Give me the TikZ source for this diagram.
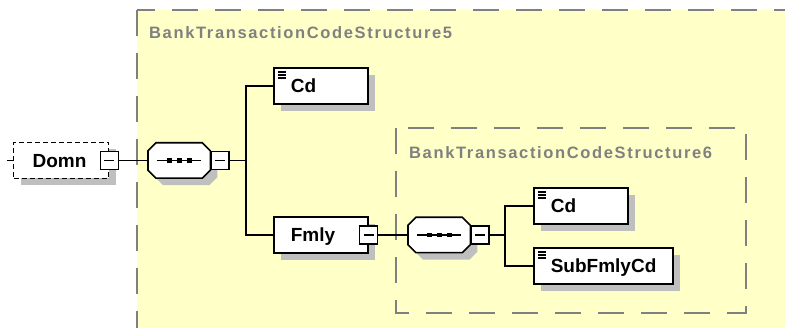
\documentclass[tikz,border=0pt]{standalone}
\usepackage{fontspec}
\setmainfont{Liberation Sans}
\newfontfamily\grpfont[LetterSpace=10]{Liberation Sans}
\usetikzlibrary{shadows}
\definecolor{grpfill}{RGB}{255,255,200}
\definecolor{grpline}{RGB}{128,128,128}
\tikzset{
  grpbox/.style   = {draw=grpline,line width=1.6pt,dash pattern=on 26pt off 17pt,fill=grpfill},
  grptitle/.style = {anchor=base west,inner sep=0pt,text=grpline,
                     font=\grpfont\bfseries\fontsize{16.5}{19}\selectfont},
  shade/.style    = {drop shadow={shadow xshift=7pt,shadow yshift=-7pt,fill=black!25,opacity=1}},
  elem/.style     = {draw,line width=1.6pt,fill=white,shade,anchor=west,minimum height=36pt,
                     inner xsep=17pt,inner ysep=0pt,align=left,text height=13.7pt,text depth=0pt,
                     font=\bfseries\fontsize{19}{22}\selectfont},
  optelem/.style  = {elem,line width=1.2pt,dash pattern=on 5pt off 3pt},
  leaf/.style     = {elem,path picture={
                       \foreach \d in {4,7,10}
                         \draw[black,line width=1.1pt] ([xshift=4pt,yshift=-\d pt]path picture bounding box.north west) -- ++(8,0);}},
  seqbox/.style   = {anchor=west,minimum width=62pt,minimum height=35pt,inner sep=0pt},
  octline/.style  = {draw,line width=1.6pt,fill=white,shade,line join=miter},
  togbox/.style   = {draw,line width=1.4pt,fill=white,minimum size=18pt,inner sep=0pt,
                     path picture={\draw[black,line width=1.4pt] ([xshift=4pt]path picture bounding box.west) -- ([xshift=-4pt]path picture bounding box.east);}},
  wire/.style     = {line width=1.4pt}
}
% octagon with the sequence mark, drawn round an empty node
\newcommand{\seqmark}[1]{%
  \path[octline] ([xshift=8pt]#1.north west) -- ([xshift=-8pt]#1.north east)
     -- ([yshift=-8pt]#1.north east) -- ([yshift=8pt]#1.south east)
     -- ([xshift=-8pt]#1.south east) -- ([xshift=8pt]#1.south west)
     -- ([yshift=8pt]#1.south west) -- ([yshift=-8pt]#1.north west) -- cycle;
  \draw[wire] ([xshift=9pt]#1.west) -- ([xshift=-9pt]#1.east);
  \foreach \dx in {-10,0,10}
    \fill ([xshift=\dx pt]#1.center) +(-2.4,-2.4) rectangle +(2.4,2.4);
}
\begin{document}
\begin{tikzpicture}[x=1pt,y=-1pt]
  \useasboundingbox (0,0) rectangle (785,328);
  \clip (0,0) rectangle (785,328);
  % --- outer group
  \draw[grpbox] (137,10) rectangle (800,345);
  \node[grptitle] (t5) at (149,39) {BankTransactionCodeStructure5};
  % --- inner group
  \draw[grpbox] (396,128) rectangle (746,313);
  \node[grptitle] (t6) at (409,159) {BankTransactionCodeStructure6};
  % --- root element
  \node[optelem,text width=57pt,inner xsep=19pt,minimum width=95pt] (domn) at (13,160.5) {Domn};
  \node[togbox] (domnt) at (domn.east) {};
  \coordinate (stub) at (7,160.5);
  % --- sequence of structure 5
  \node[seqbox] (seq1) at (148,160.5) {};
  \seqmark{seq1}
  \node[togbox,anchor=west] (seq1t) at (seq1.east) {};
  \coordinate (j1) at (246,160.5);
  \node[leaf,text width=60pt] (cd1) at (273,86) {Cd};
  \node[elem,text width=60pt] (fmly) at (273,235) {Fmly};
  \node[togbox] (fmlyt) at (fmly.east) {};
  % --- sequence of structure 6
  \node[seqbox] (seq2) at (408,235) {};
  \seqmark{seq2}
  \node[togbox,anchor=west] (seq2t) at (seq2.east) {};
  \coordinate (j2) at (505,235);
  \node[leaf,text width=60pt] (cd2) at (533,206) {Cd};
  \node[leaf,text width=105pt] (sub) at (533,266) {SubFmlyCd};
  % --- wires
  \draw[wire] (stub) -- (domn.west);
  \draw[wire] (domnt.east) -- (seq1.west);
  \draw[wire] (seq1t.east) -- (j1);
  \draw[wire] (cd1.west) -| (j1) |- (fmly.west);
  \draw[wire] (fmlyt.east) -- (seq2.west);
  \draw[wire] (seq2t.east) -- (j2);
  \draw[wire] (cd2.west) -| (j2) |- (sub.west);
\end{tikzpicture}
\end{document}
